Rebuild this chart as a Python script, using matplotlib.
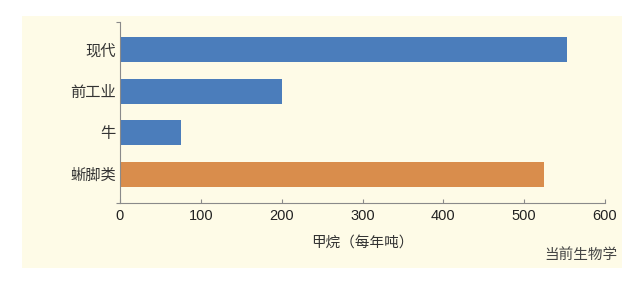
import matplotlib
matplotlib.use('Agg')
import matplotlib.pyplot as plt
from matplotlib.patches import Rectangle

# data
categories = ['现代', '前工业', '牛', '蜥脚类']
methane = [553, 200, 75, 525]
bar_colors = ['#4b7dbb', '#4b7dbb', '#4b7dbb', '#d98d4c']
x_ticks = [0, 100, 200, 300, 400, 500, 600]

plt.rcParams['font.family'] = ['Liberation Sans', 'Noto Sans CJK SC', 'DejaVu Sans']

W, H = 642, 285
fig = plt.figure(figsize=(W / 100, H / 100), dpi=100)
fig.patch.set_facecolor('white')

# cream panel behind the chart
panel = Rectangle((22 / W, 1 - 268 / H), 600 / W, 252 / H,
                  transform=fig.transFigure, facecolor='#fefbe7',
                  edgecolor='none', zorder=-5)
fig.add_artist(panel)

ax = fig.add_axes([120 / W, 1 - 203 / H, 485 / W, 181 / H])
ax.set_facecolor('none')
ax.set_zorder(2)

ypos = list(range(len(categories)))
ax.barh(ypos, methane, height=0.6, color=bar_colors, zorder=2)

ax.set_xlim(0, 600)
ax.set_ylim(3.68, -0.66)
ax.set_xticks(x_ticks)
ax.set_xticklabels([str(t) for t in x_ticks], fontsize=10.5, color='#222222')
ax.set_yticks(ypos)
ax.set_yticklabels(categories, fontsize=11, color='#333333')
# small marks at both ends of the y axis
ax.set_yticks([3.68, -0.66], minor=True)

for s in ['top', 'right']:
    ax.spines[s].set_visible(False)
for s in ['left', 'bottom']:
    ax.spines[s].set_color('#8a8a8a')
    ax.spines[s].set_linewidth(0.8)

ax.tick_params(axis='x', direction='in', length=3, color='#8a8a8a', pad=4)
ax.tick_params(axis='y', length=0, pad=3)
ax.tick_params(axis='y', which='minor', length=3, color='#8a8a8a', width=0.8)

fig.text(362 / W, 1 - 243 / H, '甲烷（每年吨）', ha='center', va='center',
         fontsize=10.5, color='#333333')
fig.text(617 / W, 1 - 255 / H, '当前生物学', ha='right', va='center',
         fontsize=10.5, color='#444444')

fig.savefig('out.png', dpi=100)
